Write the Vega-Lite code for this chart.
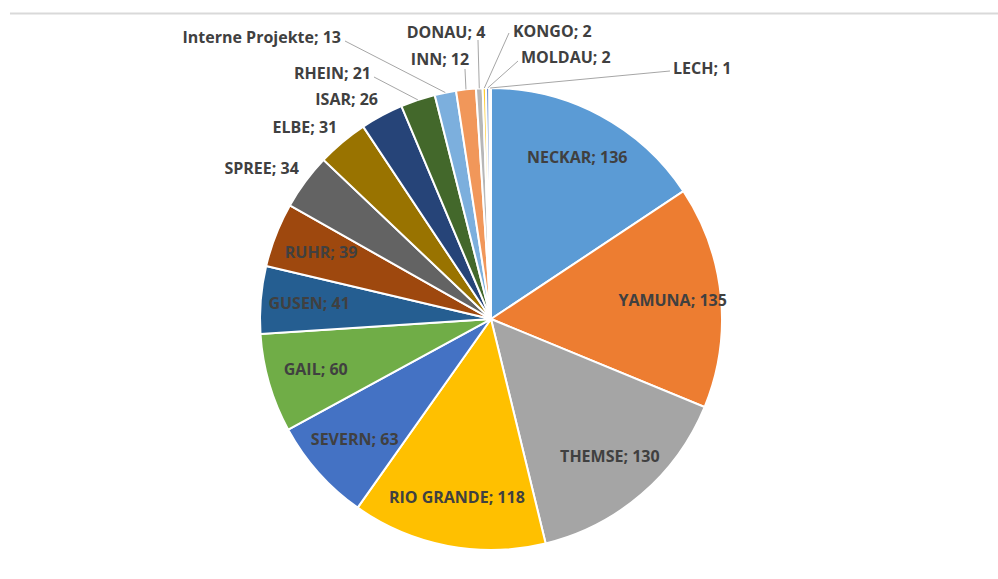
{
  "$schema": "https://vega.github.io/schema/vega-lite/v6.json",
  "width": 998,
  "height": 579,
  "padding": 0,
  "autosize": {"type": "none"},
  "background": "white",
  "config": {"view": {"stroke": null}, "text": {"font": "Open Sans", "fontWeight": "bold", "fontSize": 16, "color": "#404040"}},
  "data": {
    "values": [
      {"name": "NECKAR", "value": 136},
      {"name": "YAMUNA", "value": 135},
      {"name": "THEMSE", "value": 130},
      {"name": "RIO GRANDE", "value": 118},
      {"name": "SEVERN", "value": 63},
      {"name": "GAIL", "value": 60},
      {"name": "GUSEN", "value": 41},
      {"name": "RUHR", "value": 39},
      {"name": "SPREE", "value": 34},
      {"name": "ELBE", "value": 31},
      {"name": "ISAR", "value": 26},
      {"name": "RHEIN", "value": 21},
      {"name": "Interne Projekte", "value": 13},
      {"name": "INN", "value": 12},
      {"name": "DONAU", "value": 4},
      {"name": "KONGO", "value": 2},
      {"name": "MOLDAU", "value": 2},
      {"name": "LECH", "value": 1}
    ]
  },
  "transform": [
    {"window": [{"op": "sum", "field": "value", "as": "cum"}], "frame": [null, 0]},
    {"joinaggregate": [{"op": "sum", "field": "value", "as": "total"}]},
    {"calculate": "datum.cum / datum.total", "as": "f1"},
    {"calculate": "(datum.cum - datum.value) / datum.total", "as": "f0"},
    {"calculate": "(datum.f0 + datum.f1) * PI", "as": "mid"},
    {"calculate": "datum.name + '; ' + datum.value", "as": "label"}
  ],
  "layer": [
    {
      "data": {"values": [{"edge": "top"}]},
      "transform": [],
      "mark": {"type": "rule", "color": "#d9d9d9", "strokeWidth": 2},
      "encoding": {
        "x": {"datum": -2.0823, "type": "quantitative", "scale": {"domain": [-2.1255, 2.1948], "nice": false, "zero": false}, "axis": null},
        "x2": {"datum": 2.1948},
        "y": {"datum": 1.3225, "type": "quantitative", "scale": {"domain": [-1.1255, 1.381], "nice": false, "zero": false}, "axis": null}
      }
    },
    {
      "mark": {"type": "arc", "outerRadius": 231, "stroke": "white", "strokeWidth": 2},
      "encoding": {
        "x": {"datum": 0, "type": "quantitative", "scale": {"domain": [-2.1255, 2.1948], "nice": false, "zero": false}, "axis": null},
        "y": {"datum": 0, "type": "quantitative", "scale": {"domain": [-1.1255, 1.381], "nice": false, "zero": false}, "axis": null},
        "theta": {"field": "f0", "type": "quantitative", "stack": null, "scale": {"domain": [0, 1], "range": [0, 6.283185307179586]}},
        "theta2": {"field": "f1"},
        "color": {
          "field": "name", "type": "nominal", "legend": null,
          "scale": {
            "domain": ["NECKAR", "YAMUNA", "THEMSE", "RIO GRANDE", "SEVERN", "GAIL", "GUSEN", "RUHR", "SPREE", "ELBE", "ISAR", "RHEIN", "Interne Projekte", "INN", "DONAU", "KONGO", "MOLDAU", "LECH"],
            "range": ["#5B9BD5", "#ED7D31", "#A5A5A5", "#FFC000", "#4472C4", "#70AD47", "#255E91", "#9E480E", "#636363", "#997300", "#264478", "#43682B", "#7CAFDD", "#F1975A", "#B7B7B7", "#FFCD33", "#698ED0", "#8CC168"]
          }
        }
      }
    },
    {
      "transform": [
        {"filter": "datum.value >= 35"},
        {"calculate": "0.79 * sin(datum.mid)", "as": "lx"},
        {"calculate": "0.79 * cos(datum.mid)", "as": "ly"}
      ],
      "mark": {"type": "text", "align": "center", "baseline": "middle"},
      "encoding": {
        "x": {"field": "lx", "type": "quantitative", "scale": {"domain": [-2.1255, 2.1948], "nice": false, "zero": false}, "axis": null},
        "y": {"field": "ly", "type": "quantitative", "scale": {"domain": [-1.1255, 1.381], "nice": false, "zero": false}, "axis": null},
        "text": {"field": "label"}
      }
    },
    {
      "transform": [
        {"filter": "datum.value > 21 && datum.value < 35"},
        {"calculate": "1.035 * sin(datum.mid)", "as": "lx"},
        {"calculate": "1.035 * cos(datum.mid)", "as": "ly"}
      ],
      "mark": {"type": "text", "align": "right", "baseline": "bottom"},
      "encoding": {
        "x": {"field": "lx", "type": "quantitative", "scale": {"domain": [-2.1255, 2.1948], "nice": false, "zero": false}, "axis": null},
        "y": {"field": "ly", "type": "quantitative", "scale": {"domain": [-1.1255, 1.381], "nice": false, "zero": false}, "axis": null},
        "text": {"field": "label"}
      }
    },
    {
      "transform": [
        {"filter": "datum.value <= 21"},
        {"calculate": "({'Interne Projekte': [-0.6494, 1.2165, -0.6320, 1.2035, 'right'], 'RHEIN': [-0.5195, 1.0606, -0.5065, 1.0476, 'right'], 'INN': [-0.2208, 1.1212, -0.1126, 1.0823, 'center'], 'DONAU': [-0.1948, 1.2381, -0.0563, 1.2078, 'center'], 'KONGO': [0.0952, 1.2424, 0.0779, 1.2381, 'left'], 'MOLDAU': [0.1299, 1.1299, 0.1169, 1.1169, 'left'], 'LECH': [0.7879, 1.0823, 0.7749, 1.0736, 'left']})[datum.name]", "as": "lay"},
        {"calculate": "datum.lay[0]", "as": "lx"},
        {"calculate": "datum.lay[1]", "as": "ly"},
        {"calculate": "datum.lay[2]", "as": "sx"},
        {"calculate": "datum.lay[3]", "as": "sy"},
        {"calculate": "datum.lay[4]", "as": "al"},
        {"calculate": "sin(datum.mid)", "as": "ex"},
        {"calculate": "cos(datum.mid)", "as": "ey"}
      ],
      "layer": [
        {
          "mark": {"type": "rule", "color": "#a6a6a6", "strokeWidth": 1},
          "encoding": {
            "x": {"field": "sx", "type": "quantitative", "scale": {"domain": [-2.1255, 2.1948], "nice": false, "zero": false}, "axis": null},
            "y": {"field": "sy", "type": "quantitative", "scale": {"domain": [-1.1255, 1.381], "nice": false, "zero": false}, "axis": null},
            "x2": {"field": "ex"},
            "y2": {"field": "ey"}
          }
        },
        {
          "transform": [{"filter": "datum.al === 'right'"}],
          "mark": {"type": "text", "align": "right", "baseline": "middle"},
          "encoding": {
            "x": {"field": "lx", "type": "quantitative", "scale": {"domain": [-2.1255, 2.1948], "nice": false, "zero": false}, "axis": null},
            "y": {"field": "ly", "type": "quantitative", "scale": {"domain": [-1.1255, 1.381], "nice": false, "zero": false}, "axis": null},
            "text": {"field": "label"}
          }
        },
        {
          "transform": [{"filter": "datum.al === 'center'"}],
          "mark": {"type": "text", "align": "center", "baseline": "middle"},
          "encoding": {
            "x": {"field": "lx", "type": "quantitative", "scale": {"domain": [-2.1255, 2.1948], "nice": false, "zero": false}, "axis": null},
            "y": {"field": "ly", "type": "quantitative", "scale": {"domain": [-1.1255, 1.381], "nice": false, "zero": false}, "axis": null},
            "text": {"field": "label"}
          }
        },
        {
          "transform": [{"filter": "datum.al === 'left'"}],
          "mark": {"type": "text", "align": "left", "baseline": "middle"},
          "encoding": {
            "x": {"field": "lx", "type": "quantitative", "scale": {"domain": [-2.1255, 2.1948], "nice": false, "zero": false}, "axis": null},
            "y": {"field": "ly", "type": "quantitative", "scale": {"domain": [-1.1255, 1.381], "nice": false, "zero": false}, "axis": null},
            "text": {"field": "label"}
          }
        }
      ]
    }
  ]
}
